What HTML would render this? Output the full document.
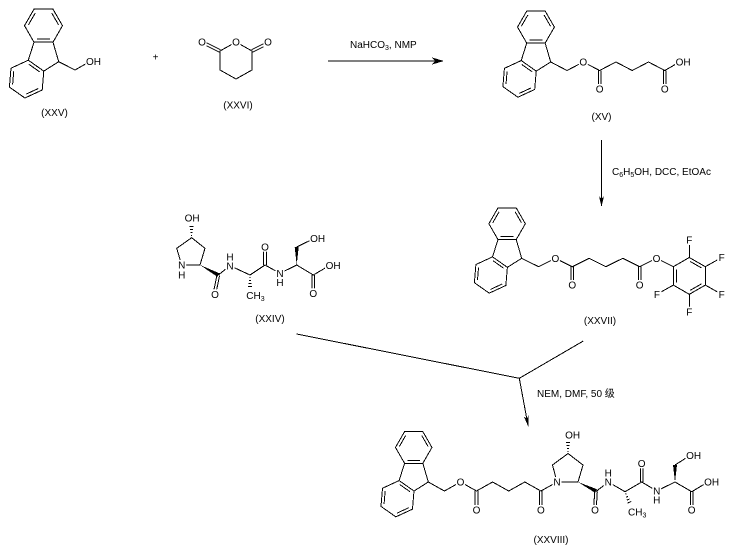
<!DOCTYPE html>
<html><head><meta charset="utf-8"><style>
html,body{margin:0;padding:0;background:#fff;}
svg{display:block}
.b{stroke:#000;stroke-width:1;fill:none}
.f{fill:#000;stroke:none}
.w{fill:#fff;stroke:none}
text{font-family:"Liberation Sans","Noto Sans CJK SC",Arial,sans-serif;font-size:10px;fill:#000}
</style></head><body>
<svg xmlns="http://www.w3.org/2000/svg" width="732" height="546" viewBox="0 0 732 546">
<rect width="732" height="546" fill="#fff"/>
<defs>
<g id="fl" class="b">
<polygon points="-24.7,-52.5 -5.7,-52.5 3.8,-36 -5.7,-19.5 -24.7,-19.5 -34.2,-36"/>
<polyline points="-5.7,-19.5 0,0 -14.9,9.4"/>
<line x1="-24.7" y1="-19.5" x2="-30.4" y2="-1.5"/>
<polygon points="-30.4,-1.5 -14.9,9.4 -16.5,28.3 -33.8,36.3 -49.3,25.4 -47.7,6.5"/>
<line x1="-8.5" y1="-22.5" x2="-21.9" y2="-22.5"/>
<line x1="-6.87" y1="-48.52" x2="-0.23" y2="-36.98"/>
<line x1="-30.18" y1="-36.98" x2="-23.52" y2="-48.52"/>
<line x1="-29.8" y1="2.59" x2="-18.95" y2="10.21"/>
<line x1="-20.36" y1="26.78" x2="-32.46" y2="32.38"/>
<line x1="-46.07" y1="22.81" x2="-44.95" y2="9.59"/>
</g>
</defs>

<g shape-rendering="crispEdges">
<!-- XXV -->
<use href="#fl" transform="translate(58.7,61.7)"/>
<polyline class="b" points="58.7,61.7 75,70 89.9,61.5"/>

<!-- XXVI -->
<polygon class="b" points="236,42 252,51 252,70 236,79 220,70 220,51"/>
<line class="b" x1="220.6" y1="49.8" x2="202.6" y2="40.8"/>
<line class="b" x1="219.4" y1="52.2" x2="201.4" y2="43.2"/>
<line class="b" x1="251.4" y1="49.8" x2="269.4" y2="40.8"/>
<line class="b" x1="252.6" y1="52.2" x2="270.6" y2="43.2"/>

<!-- arrow 1 -->
<line class="b" x1="328" y1="61" x2="436" y2="61"/>
<polygon class="f" points="444,61 432,57.5 435,61 432,64.5"/>

<!-- XV -->
<use href="#fl" transform="translate(550.7,62) scale(0.97)"/>
<polyline class="b" points="550.7,62 567,70.5 583.3,62 599.6,70.5 615.9,62 632.2,70.5 648.5,62 664.8,70.5 679.5,62"/>
<line class="b" x1="598.3" y1="70.5" x2="598.3" y2="88"/>
<line class="b" x1="600.9" y1="70.5" x2="600.9" y2="88"/>
<line class="b" x1="663.5" y1="70.5" x2="663.5" y2="88"/>
<line class="b" x1="666.1" y1="70.5" x2="666.1" y2="88"/>

<!-- arrow 2 -->
<line class="b" x1="601.5" y1="140" x2="601.5" y2="200"/>
<polygon class="f" points="601.5,207 599,196 601.5,199 604,196"/>

<!-- XXVII -->
<use href="#fl" transform="translate(521.7,258.3) scale(0.96)"/>
<polyline class="b" points="521.7,258.3 538.55,266.7 555.4,258.3 572.25,266.7 589.1,258.3 605.95,266.7 622.8,258.3 639.65,266.7 656.5,258.3 673.3,266.7"/>
<line class="b" x1="570.95" y1="266.7" x2="570.95" y2="284"/>
<line class="b" x1="573.55" y1="266.7" x2="573.55" y2="284"/>
<line class="b" x1="638.35" y1="266.7" x2="638.35" y2="284"/>
<line class="b" x1="640.95" y1="266.7" x2="640.95" y2="284"/>
<polygon class="b" points="673.3,266.7 689.3,257.5 705.3,266.7 705.3,285.1 689.3,294.3 673.3,285.1"/>
<line class="b" x1="690.2" y1="261.5" x2="701.4" y2="267.9"/>
<line class="b" x1="701.4" y1="283.9" x2="690.2" y2="290.3"/>
<line class="b" x1="676.3" y1="282.3" x2="676.3" y2="269.5"/>
<line class="b" x1="689.3" y1="257.5" x2="689.3" y2="240"/>
<line class="b" x1="705.3" y1="266.7" x2="721.7" y2="257.5"/>
<line class="b" x1="705.3" y1="285.1" x2="721.7" y2="294.3"/>
<line class="b" x1="689.3" y1="294.3" x2="689.3" y2="311.7"/>
<line class="b" x1="673.3" y1="285.1" x2="656.9" y2="294.3"/>

<!-- XXIV -->
<polygon class="b" points="181.7,265 176.7,248.3 191.7,237.7 205,248.3 200,265"/>
<line class="b" x1="191" y1="235.5" x2="192.2" y2="235.5"/>
<line class="b" x1="190.5" y1="232.5" x2="192.5" y2="232.5"/>
<line class="b" x1="190" y1="229.5" x2="193" y2="229.5"/>
<line class="b" x1="189.5" y1="226.5" x2="193.5" y2="226.5"/>
<polygon class="f" points="200,265 217.3,276.8 219.3,273.2"/>
<line class="b" x1="217" y1="275" x2="213.7" y2="291"/>
<line class="b" x1="219.6" y1="275.4" x2="216.3" y2="291.4"/>
<polyline class="b" points="218.3,275 230,265.7 250,275 265,265 280,273.3 296.7,265 313.3,275 329.5,265.5"/>
<line class="b" x1="263.7" y1="265" x2="263.7" y2="249"/>
<line class="b" x1="266.3" y1="265" x2="266.3" y2="249"/>
<line class="b" x1="249.5" y1="277.5" x2="250.5" y2="277.5"/>
<line class="b" x1="249" y1="280.5" x2="251" y2="280.5"/>
<line class="b" x1="248.5" y1="283.5" x2="251.5" y2="283.5"/>
<line class="b" x1="248" y1="286.5" x2="252" y2="286.5"/>
<polygon class="f" points="296.7,265 294.7,247 298.7,247"/>
<line class="b" x1="296.7" y1="247" x2="314" y2="238.5"/>
<line class="b" x1="312" y1="275" x2="312" y2="291"/>
<line class="b" x1="314.6" y1="275" x2="314.6" y2="291"/>

<!-- convergence arrow -->
<line class="b" x1="296.7" y1="334" x2="519.3" y2="378.3"/>
<line class="b" x1="583.3" y1="341" x2="519.3" y2="378.3"/>
<line class="b" x1="519.3" y1="378.3" x2="526.8" y2="418.8"/>
<polygon class="f" points="528.3,426.7 528.8,415.4 526.8,418.8 523.8,416.4"/>

<!-- XXVIII -->
<use href="#fl" transform="translate(428.3,482) scale(0.96)"/>
<polyline class="b" points="428.3,482 444.4,491 460.5,482 476.5,491 492.6,482 508.7,491 524.8,482 540.9,491 557,482"/>
<line class="b" x1="475.2" y1="491" x2="475.2" y2="508"/>
<line class="b" x1="477.8" y1="491" x2="477.8" y2="508"/>
<line class="b" x1="539.6" y1="491" x2="539.6" y2="508"/>
<line class="b" x1="542.2" y1="491" x2="542.2" y2="508"/>
<polygon class="b" points="557,482 552.5,465 568,453.5 583,465 578,482"/>
<line class="b" x1="567.4" y1="451.5" x2="568.6" y2="451.5"/>
<line class="b" x1="567" y1="448.5" x2="569" y2="448.5"/>
<line class="b" x1="566.5" y1="445.5" x2="569.5" y2="445.5"/>
<line class="b" x1="566" y1="442.5" x2="570" y2="442.5"/>
<polygon class="f" points="578,482 595.1,492.8 596.9,489.2"/>
<line class="b" x1="594.7" y1="491.5" x2="593.7" y2="508"/>
<line class="b" x1="597.3" y1="491.7" x2="596.3" y2="508"/>
<polyline class="b" points="596,491.5 608.3,482 625,491.7 641.7,482 656.7,491 675,482 691.7,491.7 708,482"/>
<line class="b" x1="640.4" y1="482" x2="640.4" y2="465.5"/>
<line class="b" x1="643" y1="482" x2="643" y2="465.5"/>
<line class="b" x1="626.5" y1="493.8" x2="625.4" y2="494.2"/>
<line class="b" x1="628" y1="496.4" x2="626.1" y2="497.2"/>
<line class="b" x1="629.6" y1="499" x2="626.8" y2="500.2"/>
<line class="b" x1="631.2" y1="501.5" x2="627.4" y2="503.1"/>
<polygon class="f" points="675,482 673,465 677,465"/>
<line class="b" x1="675" y1="465" x2="690" y2="455.5"/>
<line class="b" x1="690.4" y1="491.7" x2="690.4" y2="508"/>
<line class="b" x1="693" y1="491.7" x2="693" y2="508"/>
</g>

<!-- label backgrounds -->
<g class="w">
<rect x="85.4" y="56.5" width="9" height="10"/>
<rect x="197.5" y="37" width="9" height="10"/>
<rect x="231.5" y="37" width="9" height="10"/>
<rect x="263.5" y="37" width="9" height="10"/>
<rect x="578.8" y="57" width="9" height="10"/>
<rect x="595.1" y="84" width="9" height="10"/>
<rect x="660.3" y="84" width="9" height="10"/>
<rect x="675" y="57" width="9" height="10"/>
<rect x="550.9" y="253.3" width="9" height="10"/>
<rect x="567.75" y="280" width="9" height="10"/>
<rect x="635.15" y="280" width="9" height="10"/>
<rect x="652" y="253.3" width="9" height="10"/>
<rect x="684.8" y="235" width="9" height="10"/>
<rect x="717.2" y="252.5" width="9" height="10"/>
<rect x="717.2" y="289.3" width="9" height="10"/>
<rect x="684.8" y="306.7" width="9" height="10"/>
<rect x="652.4" y="289.3" width="9" height="10"/>
<rect x="184" y="213" width="9" height="10"/>
<rect x="177.2" y="260" width="9" height="10"/>
<rect x="210.5" y="289.3" width="9" height="10"/>
<rect x="225.5" y="260.7" width="9" height="10"/>
<rect x="260.5" y="241.7" width="9" height="10"/>
<rect x="275.5" y="268.3" width="9" height="10"/>
<rect x="309.5" y="233.5" width="9" height="10"/>
<rect x="308.8" y="288.3" width="9" height="10"/>
<rect x="325" y="260.5" width="9" height="10"/>
<rect x="456" y="477" width="9" height="10"/>
<rect x="472" y="505" width="9" height="10"/>
<rect x="536.4" y="505" width="9" height="10"/>
<rect x="552.5" y="477" width="9" height="10"/>
<rect x="564.5" y="430" width="9" height="10"/>
<rect x="590.5" y="505" width="9" height="10"/>
<rect x="603.8" y="477" width="9" height="10"/>
<rect x="637.2" y="458.3" width="9" height="10"/>
<rect x="652.2" y="486" width="9" height="10"/>
<rect x="685.5" y="450.5" width="9" height="10"/>
<rect x="687.2" y="505" width="9" height="10"/>
<rect x="703.5" y="477" width="9" height="10"/>
</g>

<!-- text -->
<g>
<!-- XXV -->
<text x="86" y="65.1">OH</text>
<text x="54.5" y="116" text-anchor="middle">(XXV)</text>
<text x="155.5" y="60.5" text-anchor="middle">+</text>
<!-- XXVI -->
<text x="202" y="45.6" text-anchor="middle">O</text>
<text x="236" y="45.6" text-anchor="middle">O</text>
<text x="268" y="45.6" text-anchor="middle">O</text>
<text x="238" y="108.5" text-anchor="middle">(XXVI)</text>
<!-- arrow 1 -->
<text x="350" y="48">NaHCO<tspan font-size="7" dy="2">3</tspan><tspan dy="-2">, NMP</tspan></text>
<!-- XV -->
<text x="583.3" y="65.6" text-anchor="middle">O</text>
<text x="599.6" y="92.6" text-anchor="middle">O</text>
<text x="664.8" y="92.6" text-anchor="middle">O</text>
<text x="675.6" y="65.6">OH</text>
<text x="601.5" y="120" text-anchor="middle">(XV)</text>
<!-- arrow 2 -->
<text x="612" y="175">C<tspan font-size="7" dy="2">6</tspan><tspan dy="-2">H</tspan><tspan font-size="7" dy="2">5</tspan><tspan dy="-2">OH, DCC, EtOAc</tspan></text>
<!-- XXVII -->
<text x="555.4" y="261.9" text-anchor="middle">O</text>
<text x="572.25" y="288.6" text-anchor="middle">O</text>
<text x="639.65" y="288.6" text-anchor="middle">O</text>
<text x="656.5" y="261.9" text-anchor="middle">O</text>
<text x="689.3" y="243.6" text-anchor="middle">F</text>
<text x="721.7" y="261.1" text-anchor="middle">F</text>
<text x="721.7" y="297.9" text-anchor="middle">F</text>
<text x="689.3" y="315.3" text-anchor="middle">F</text>
<text x="656.9" y="297.9" text-anchor="middle">F</text>
<text x="600" y="324" text-anchor="middle">(XXVII)</text>
<!-- XXIV -->
<text x="184.6" y="221.6">OH</text>
<text x="181.7" y="268.6" text-anchor="middle">N</text>
<text x="181.7" y="278.6" text-anchor="middle">H</text>
<text x="215" y="297.9" text-anchor="middle">O</text>
<text x="230" y="269.3" text-anchor="middle">N</text>
<text x="230" y="260.3" text-anchor="middle">H</text>
<text x="265" y="250.3" text-anchor="middle">O</text>
<text x="280" y="276.9" text-anchor="middle">N</text>
<text x="280" y="285.9" text-anchor="middle">H</text>
<text x="246.3" y="298.8">CH<tspan font-size="7" dy="2">3</tspan></text>
<text x="310.1" y="242.1">OH</text>
<text x="313.3" y="296.9" text-anchor="middle">O</text>
<text x="325.6" y="269.1">OH</text>
<text x="270" y="322" text-anchor="middle">(XXIV)</text>
<!-- convergence -->
<text x="537" y="397">NEM, DMF, 50 级</text>
<!-- XXVIII -->
<text x="460.5" y="485.6" text-anchor="middle">O</text>
<text x="476.5" y="513.6" text-anchor="middle">O</text>
<text x="540.9" y="513.6" text-anchor="middle">O</text>
<text x="557" y="485.6" text-anchor="middle">N</text>
<text x="565.1" y="438.6">OH</text>
<text x="595" y="513.6" text-anchor="middle">O</text>
<text x="608.3" y="485.6" text-anchor="middle">N</text>
<text x="608.3" y="476.6" text-anchor="middle">H</text>
<text x="641.7" y="466.9" text-anchor="middle">O</text>
<text x="628" y="515.3">CH<tspan font-size="7" dy="2">3</tspan></text>
<text x="656.7" y="494.6" text-anchor="middle">N</text>
<text x="656.7" y="503.6" text-anchor="middle">H</text>
<text x="686.1" y="459.1">OH</text>
<text x="691.7" y="513.6" text-anchor="middle">O</text>
<text x="704.1" y="485.6">OH</text>
<text x="551" y="543" text-anchor="middle">(XXVIII)</text>
</g>
</svg>
</body></html>
